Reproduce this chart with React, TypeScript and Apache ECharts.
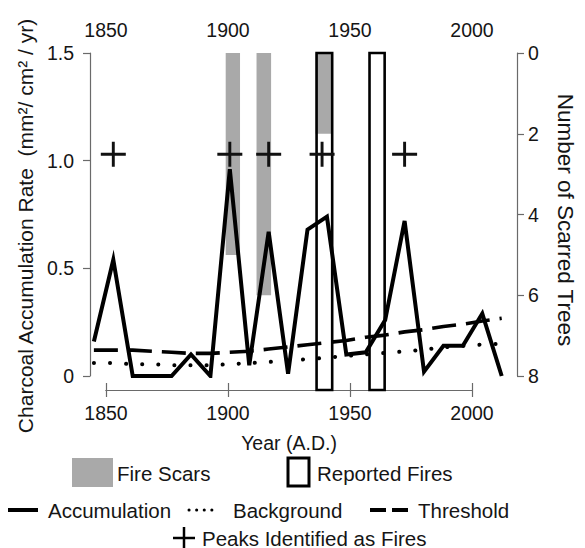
import React, { useEffect, useRef } from "react";
import * as echarts from "echarts";

// ---- data ----
const years = [1845, 1853, 1861, 1869, 1877, 1885, 1893, 1901, 1909, 1917, 1925, 1933, 1941, 1949, 1957, 1965, 1973, 1981, 1989, 1997, 2005, 2013];
const accumulation = [0.16, 0.54, 0, 0, 0, 0.1, 0, 0.96, 0.05, 0.67, 0.01, 0.68, 0.74, 0.1, 0.11, 0.26, 0.72, 0.02, 0.14, 0.14, 0.29, 0];
const background = [0.06, 0.06, 0.055, 0.055, 0.05, 0.05, 0.05, 0.055, 0.06, 0.065, 0.072, 0.078, 0.085, 0.093, 0.1, 0.107, 0.114, 0.122, 0.133, 0.14, 0.146, 0.15];
const threshold = [0.12, 0.12, 0.12, 0.115, 0.11, 0.105, 0.105, 0.11, 0.115, 0.125, 0.135, 0.145, 0.155, 0.165, 0.18, 0.19, 0.205, 0.215, 0.23, 0.24, 0.255, 0.268];
const peakYears = [1853, 1901, 1917, 1939, 1973];
const peakLevel = 1.03;
const scarStart = [1899.3, 1912, 1936.3];
const scarEnd = [1905.2, 1918, 1942.7];
const scarTrees = [5, 6, 2];
const reportedStart = [1936.3, 1958];
const reportedEnd = [1942.7, 1964.2];
const yearTicks = [1850, 1900, 1950, 2000];
const rateTicks = [0, 0.5, 1.0, 1.5];
const treeTicks = [0, 2, 4, 6, 8];

const FONT = "'Liberation Sans', Arial, Helvetica, sans-serif";
const TXT = "#151515";
const AX = "#6a6a6a";
const plusPath = "path://M10.6,0h2.8v10.6h10.6v2.8h-10.6v10.6h-2.8v-10.6h-10.6v-2.8h10.6z";

export default function App() {
  const ref = useRef<HTMLDivElement>(null);
  useEffect(() => {
    if (!ref.current) return;
    const chart = echarts.init(ref.current, undefined, { renderer: "svg" });
    const axisText = { fontSize: 19.5, color: TXT, fontFamily: FONT };
    const legendText = (x: number, y: number, text: string) => ({
      type: "text", x, y,
      style: { text, fontSize: 20.5, fill: TXT, fontFamily: FONT, verticalAlign: "middle", align: "left" },
    });
    const yearAxis = (position: string) => ({
      gridIndex: 1, type: "value", position, min: yearTicks[0], max: yearTicks[yearTicks.length - 1], interval: 50,
      axisLine: { show: true, lineStyle: { color: AX, width: 1.2 } },
      axisTick: { show: true, length: 7, lineStyle: { color: AX, width: 1.2 } },
      axisLabel: { ...axisText, margin: 13, formatter: (v: number) => String(v) },
      splitLine: { show: false },
    });
    chart.setOption({
      animation: false,
      backgroundColor: "#fff",
      grid: [
        { left: 90, right: 66, top: 53, bottom: 172 },
        { left: 106, right: 113, top: 53, bottom: 158 },
      ],
      xAxis: [
        { gridIndex: 0, type: "value", min: 1843.4, max: 2019.3, show: false },
        yearAxis("top"),
        {
          ...yearAxis("bottom"),
          name: "Year (A.D.)", nameLocation: "middle", nameGap: 43,
          nameTextStyle: { ...axisText },
        },
      ],
      yAxis: [
        {
          gridIndex: 0, type: "value", position: "left", min: rateTicks[0], max: rateTicks[rateTicks.length - 1], interval: 0.5,
          axisLine: { show: true, lineStyle: { color: AX, width: 1.2 } },
          axisTick: { show: true, length: 7, lineStyle: { color: AX, width: 1.2 } },
          axisLabel: { ...axisText, margin: 16, formatter: (v: number) => (v === 0 ? "0" : v.toFixed(1)) },
          splitLine: { show: false },
          name: "Charcoal Accumulation Rate  (mm²/ cm² / yr)", nameLocation: "middle", nameGap: 52,
          nameTextStyle: { ...axisText, fontSize: 21, padding: [0, 23, 0, 0] },
        },
        {
          gridIndex: 0, type: "value", position: "right", inverse: true, min: treeTicks[0], max: treeTicks[treeTicks.length - 1], interval: 2,
          axisLine: { show: true, lineStyle: { color: AX, width: 1.2 } },
          axisTick: { show: true, length: 7, lineStyle: { color: AX, width: 1.2 } },
          axisLabel: { ...axisText, margin: 11 },
          splitLine: { show: false },
          name: "Number of Scarred Trees", nameLocation: "middle", nameGap: 37, nameRotate: -90,
          nameTextStyle: { ...axisText, fontSize: 22.5, padding: [0, 0, 0, 11] },
        },
        { gridIndex: 1, type: "value", min: 0, max: 1, show: false },
      ],
      series: [
        {
          name: "Fire Scars", type: "custom", xAxisIndex: 0, yAxisIndex: 1, z: 1,
          data: scarStart.map((s, i) => [s, scarEnd[i], scarTrees[i]]),
          encode: { x: [0, 1], y: 2 },
          renderItem: (params: any, api: any) => {
            const p1 = api.coord([api.value(0), 0]);
            const p2 = api.coord([api.value(1), api.value(2)]);
            return {
              type: "rect",
              shape: { x: p1[0], y: p1[1], width: p2[0] - p1[0], height: p2[1] - p1[1] },
              style: { fill: "#a9a9a9" },
            };
          },
        },
        {
          name: "Reported Fires", type: "custom", xAxisIndex: 2, yAxisIndex: 2, z: 2,
          data: reportedStart.map((s, i) => [s, reportedEnd[i]]),
          encode: { x: [0, 1] },
          renderItem: (params: any, api: any) => {
            const p1 = api.coord([api.value(0), 1]);
            const p2 = api.coord([api.value(1), 0]);
            return {
              type: "rect",
              shape: { x: p1[0], y: p1[1], width: p2[0] - p1[0], height: p2[1] - p1[1] },
              style: { fill: "none", stroke: "#000", lineWidth: 2.6 },
            };
          },
        },
        {
          name: "Threshold", type: "line", xAxisIndex: 0, yAxisIndex: 0, z: 3,
          data: years.map((y, i) => [y, threshold[i]]),
          symbol: "none",
          lineStyle: { color: "#000", width: 3.6, type: [24, 10] },
        },
        {
          name: "Background", type: "line", xAxisIndex: 0, yAxisIndex: 0, z: 3,
          data: years.map((y, i) => [y, background[i]]),
          symbol: "none",
          lineStyle: { color: "#000", width: 4, type: [0.1, 16], cap: "round" },
        },
        {
          name: "Accumulation", type: "line", xAxisIndex: 0, yAxisIndex: 0, z: 4,
          data: years.map((y, i) => [y, accumulation[i]]),
          symbol: "none",
          lineStyle: { color: "#000", width: 4, join: "miter", miterLimit: 6 },
        },
        {
          name: "Peaks Identified as Fires", type: "scatter", xAxisIndex: 0, yAxisIndex: 0, z: 5,
          data: peakYears.map((y) => [y, peakLevel]),
          symbol: plusPath, symbolSize: 25,
          itemStyle: { color: "#111", opacity: 1 },
        },
      ],
      graphic: [
        { type: "rect", shape: { x: 72, y: 458, width: 41, height: 29 }, style: { fill: "#a9a9a9" } },
        legendText(117, 473, "Fire Scars"),
        { type: "rect", shape: { x: 288, y: 458, width: 21, height: 28 }, style: { fill: "none", stroke: "#000", lineWidth: 3 } },
        legendText(317, 473, "Reported Fires"),
        { type: "line", shape: { x1: 8, y1: 510, x2: 38, y2: 510 }, style: { stroke: "#000", lineWidth: 4 } },
        legendText(48, 510, "Accumulation"),
        { type: "line", shape: { x1: 189, y1: 510, x2: 212, y2: 510 }, style: { stroke: "#000", lineWidth: 3, lineDash: [0.1, 7.5], lineCap: "round" } },
        legendText(233, 510, "Background"),
        { type: "line", shape: { x1: 370, y1: 510, x2: 408, y2: 510 }, style: { stroke: "#000", lineWidth: 4, lineDash: [16, 6] } },
        legendText(418, 510, "Threshold"),
        { type: "line", shape: { x1: 173, y1: 538, x2: 195, y2: 538 }, style: { stroke: "#000", lineWidth: 2.5 } },
        { type: "line", shape: { x1: 184, y1: 527, x2: 184, y2: 549 }, style: { stroke: "#000", lineWidth: 2.5 } },
        legendText(202, 538, "Peaks Identified as Fires"),
      ],
    });
    return () => chart.dispose();
  }, []);
  return <div ref={ref} style={{ width: 585, height: 548, position: "absolute", left: 0, top: 0 }} />;
}
